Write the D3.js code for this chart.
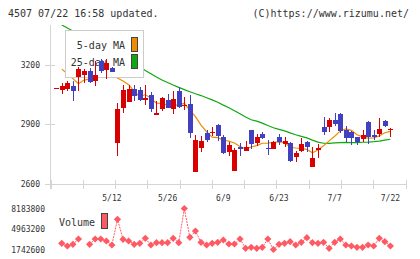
<!DOCTYPE html>
<html>
<head>
<meta charset="utf-8">
<script src="https://cdn.jsdelivr.net/npm/d3@7"></script>
<style>
  body { margin: 0; background: #fff; }
  svg { display: block; font-family: "DejaVu Sans Mono", monospace; }
</style>
</head>
<body>
<svg id="chart" width="420" height="259"></svg>
<script>
// x-axis labels sit on these day indexes
const dateLabels = ["5/12", "5/26", "6/9", "6/23", "7/7", "7/22"];
const labelDays = [10, 20, 30, 40, 50, 60];

const priceTicks = [2600, 2900, 3200];
const volumeTicks = [1742600, 4963200, 8183800];

const open = [3078, 3074, 3074, 3093, 3140, 3152, 3170, 3120, 3220, 3173,
  3185, 2808, 2984, 3014, 3078, 3073, 3024, 3048, 2947, 2976,
  3022, 2979, 3068, 2995, 3002, 2662, 2779, 2857, 2856, 2897,
  2838, 2762, 2665, 2788, 2766, 2870, 2806, 2852, 2783, 2776,
  2836, 2801, 2805, 2737, 2766, 2810, 2687, 2775, 2888, 2888,
  2922, 2951, 2872, 2860, 2835, 2825, 2913, 2847, 2850, 2917, 2872];
const high = [3085, 3106, 3117, 3117, 3190, 3178, 3185, 3220, 3229, 3229,
  3188, 3009, 3098, 3098, 3098, 3089, 3098, 3063, 3017, 3039,
  3051, 3068, 3086, 3039, 3048, 2846, 2841, 2872, 2887, 2902,
  2846, 2809, 2780, 2805, 2816, 2872, 2851, 2863, 2821, 2816,
  2851, 2838, 2811, 2766, 2833, 2816, 2788, 2801, 2937, 2930,
  2956, 2956, 2893, 2866, 2838, 2872, 2917, 2872, 2930, 2922, 2880];
const low = [3078, 3051, 3070, 3019, 3068, 3108, 3106, 3094, 3157, 3128,
  3162, 2742, 2956, 3012, 3017, 3017, 2997, 2962, 2945, 2967,
  2982, 2950, 2981, 2972, 2830, 2662, 2762, 2813, 2841, 2816,
  2751, 2742, 2665, 2742, 2766, 2776, 2791, 2827, 2746, 2776,
  2796, 2784, 2712, 2712, 2759, 2759, 2684, 2729, 2846, 2863,
  2892, 2855, 2813, 2796, 2796, 2810, 2800, 2821, 2838, 2888, 2838];
const close = [3081, 3093, 3106, 3069, 3178, 3170, 3115, 3148, 3170, 3207,
  3165, 2977, 3073, 3078, 3043, 3023, 3034, 2976, 2959, 3031,
  2984, 3028, 2989, 2997, 2858, 2821, 2816, 2821, 2863, 2842,
  2759, 2796, 2771, 2776, 2785, 2801, 2834, 2831, 2777, 2809,
  2809, 2816, 2712, 2757, 2801, 2783, 2732, 2783, 2863, 2922,
  2902, 2867, 2830, 2830, 2810, 2846, 2838, 2838, 2877, 2893, 2877];

const ma5 = [null, 3178, 3155, 3130, 3105, 3123, 3128, 3136, 3156, 3162,
  3161, 3133, 3118, 3100, 3067, 3039, 3050, 3031, 3007, 3005,
  2997, 2996, 2998, 3006, 2971, 2939, 2896, 2863, 2836, 2833,
  2820, 2816, 2806, 2789, 2777, 2786, 2793, 2805, 2806, 2810,
  2812, 2808, 2785, 2781, 2779, 2774, 2757, 2771, 2792, 2817,
  2840, 2867, 2877, 2870, 2848, 2837, 2831, 2832, 2842, 2858, 2865];
const ma25 = [null, 3400, 3385, 3370, 3355, 3339, 3324, 3309, 3294, 3279,
  3264, 3249, 3234, 3219, 3204, 3189, 3171, 3155, 3138, 3123,
  3111, 3098, 3086, 3075, 3064, 3054, 3045, 3034, 3023, 3011,
  2997, 2984, 2969, 2953, 2937, 2923, 2916, 2906, 2894, 2883,
  2875, 2867, 2857, 2848, 2840, 2832, 2821, 2811, 2805, 2804,
  2807, 2808, 2809, 2808, 2808, 2810, 2811, 2813, 2816, 2821, 2825];

const volume = [null, 2717000, 2293000, 2560000, 3392000, null, 2560000, 3392000, 3392000, 3078000,
  2450000, 6487000, 3345000, 3078000, 2560000, 2717000, 3502000, 2450000, 2811000, 2811000,
  2811000, 3502000, 2811000, 8183800, 3659000, 4649000, 2874000, 2450000, 2717000, 2874000,
  3235000, 2607000, 2607000, 3392000, 1931000, 2088000, 1931000, 2088000, 3392000, 1742600,
  2560000, 2717000, 2968000, 2450000, 2874000, 3596000, 2811000, 2717000, 2874000, 1931000,
  2874000, 3392000, 2450000, 2293000, 2088000, 2088000, 2450000, 2293000, 3502000, 2968000, 2293000];

const upColor = "#d80000", downColor = "#4040c0";
const ma5Color = "#f08c00", ma25Color = "#10a810";
const volColor = "#ff5a64", gridColor = "#d4d4d4", textColor = "#333";

const svg = d3.select("#chart");
const days = d3.range(close.length);

const x = d3.scaleLinear().domain([0, close.length - 1]).range([56.2, 390.4]);
const y = d3.scaleLinear().domain([2600, 3400]).range([184, 25]);
const yVol = d3.scaleLinear().domain([1742600, 8183800]).range([249.5, 208.5]);
// evenly spaced frame ticks along the bottom
const frame = d3.scaleLinear().domain([0, 11]).range([50.5, 405.5]);

svg.append("defs").append("clipPath").attr("id", "plot")
  .append("rect").attr("x", 50).attr("y", 25).attr("width", 360).attr("height", 160);

// header
svg.append("text").attr("x", 8).attr("y", 17).attr("font-size", 10).attr("fill", textColor)
  .text("4507 07/22 16:58 updated.");
svg.append("text").attr("x", 409).attr("y", 17).attr("font-size", 10).attr("fill", textColor)
  .attr("text-anchor", "end").text("(C)https://www.rizumu.net/");

// axes
const axes = svg.append("g").attr("stroke", gridColor).attr("shape-rendering", "crispEdges");
axes.append("line").attr("x1", 50.5).attr("x2", 50.5).attr("y1", 25).attr("y2", 189);
axes.append("line").attr("x1", 45).attr("x2", 406).attr("y1", 184.5).attr("y2", 184.5);
axes.selectAll(".xt").data(frame.ticks(11)).join("line")
  .attr("x1", d => Math.round(frame(d)) + 0.5).attr("x2", d => Math.round(frame(d)) + 0.5)
  .attr("y1", 180).attr("y2", 189);
axes.selectAll(".yt").data(priceTicks).join("line")
  .attr("x1", 45).attr("x2", 55)
  .attr("y1", d => Math.round(y(d)) + 0.5).attr("y2", d => Math.round(y(d)) + 0.5);

svg.append("g").attr("font-size", 8).attr("fill", textColor).attr("text-anchor", "end")
  .selectAll("text").data(priceTicks).join("text")
  .attr("x", 40).attr("y", d => y(d) + 3).text(d => d);

svg.append("g").attr("font-size", 8).attr("fill", textColor).attr("text-anchor", "middle")
  .selectAll("text").data(dateLabels).join("text")
  .attr("x", (d, i) => x(labelDays[i])).attr("y", 201).text(d => d);

svg.append("g").attr("font-size", 8).attr("fill", textColor).attr("text-anchor", "end")
  .selectAll("text").data(volumeTicks).join("text")
  .attr("x", 45).attr("y", d => yVol(d) + 3).text(d => d);

// moving averages
const maLine = d3.line().defined(d => d[1] != null).x(d => x(d[0])).y(d => y(d[1]));
const lines = svg.append("g").attr("clip-path", "url(#plot)").attr("fill", "none");
lines.append("path").datum(days.map(i => [i, ma25[i]]))
  .attr("stroke", ma25Color).attr("stroke-width", 1.2).attr("d", maLine);
lines.append("path").datum(days.map(i => [i, ma5[i]]))
  .attr("stroke", ma5Color).attr("stroke-width", 1.2).attr("d", maLine);

// legend (drawn over the lines, under the candles)
const legend = svg.append("g");
legend.append("rect").attr("x", 65.5).attr("y", 30.5).attr("width", 78).attr("height", 47)
  .attr("fill", "#fff").attr("stroke", "#ccc");
legend.selectAll("text").data(["5-day MA", "25-day MA"]).join("text")
  .attr("x", 125).attr("y", (d, i) => 49 + i * 17).attr("font-size", 10)
  .attr("fill", textColor).attr("text-anchor", "end").text(d => d);
legend.selectAll("rect.sw").data([ma5Color, ma25Color]).join("rect").attr("class", "sw")
  .attr("x", 131.5).attr("y", (d, i) => 37.5 + i * 17).attr("width", 6).attr("height", 14)
  .attr("fill", d => d).attr("stroke", "#444");

// candles
const candles = svg.append("g").attr("shape-rendering", "crispEdges")
  .selectAll("g").data(days).join("g")
  .attr("fill", i => close[i] >= open[i] ? upColor : downColor)
  .attr("stroke", i => close[i] >= open[i] ? upColor : downColor);
candles.append("line")
  .attr("x1", i => Math.round(x(i)) + 0.5).attr("x2", i => Math.round(x(i)) + 0.5)
  .attr("y1", i => y(high[i])).attr("y2", i => y(low[i]));
candles.append("rect").attr("stroke", "none")
  .attr("x", i => Math.round(x(i)) - 2).attr("width", 5)
  .attr("y", i => Math.round(y(Math.max(open[i], close[i]))))
  .attr("height", i => Math.max(1, Math.round(Math.abs(y(open[i]) - y(close[i])))));

// volume
const volLine = d3.line().defined(d => d[1] != null).x(d => x(d[0])).y(d => yVol(d[1]));
svg.append("path").datum(days.map(i => [i, volume[i]]))
  .attr("fill", "none").attr("stroke", volColor).attr("stroke-dasharray", "2,1")
  .attr("d", volLine);
svg.append("g").attr("fill", volColor)
  .selectAll("path").data(days.filter(i => volume[i] != null)).join("path")
  .attr("d", d3.symbol(d3.symbolSquare, 26))
  .attr("transform", i => `translate(${x(i)},${yVol(volume[i])}) rotate(45)`);

svg.append("text").attr("x", 59).attr("y", 226).attr("font-size", 10).attr("fill", textColor)
  .text("Volume");
svg.append("rect").attr("x", 101.5).attr("y", 213.5).attr("width", 6).attr("height", 15)
  .attr("fill", volColor).attr("stroke", "#444");
</script>
</body>
</html>
